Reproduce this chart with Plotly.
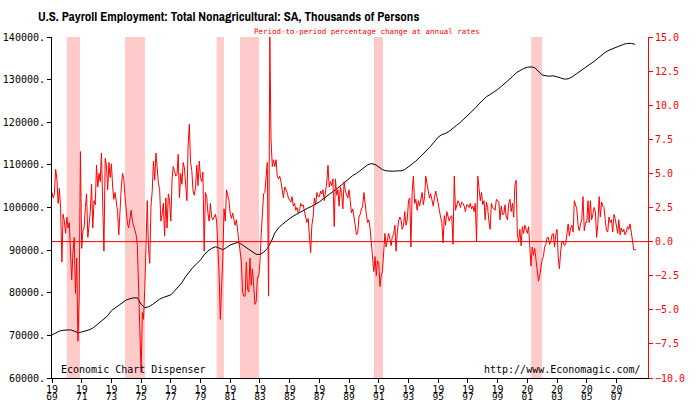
import pandas as pd
import plotly.graph_objects as go

# ---------------- data ----------------
first_month = "1969-01-01"

# Monthly period-to-period % change at annual rates (right axis)
pct_change = [
    3.6, 3.2, 3.5, 5.3, 4.6, 2.8, 3.9, 2.4, -1.5, 2.0, 1.5, 0.6,      # 1969
    1.8, 1.0, 1.4, -1.0, -2.8, -0.7, 0.3, -3.8, -1.2, -7.3, -4.0, 6.6,  # 1970
    -0.5, 0.8, 1.0, 2.5, 3.5, 0.3, 1.5, 2.2, 4.2, 1.0, 3.0, 2.7,     # 1971
    5.6, 4.0, 5.0, 4.4, 6.5, 3.5, -0.7, 6.1, 5.6, 3.8, 5.8, 4.7,     # 1972
    5.7, 4.0, 3.1, 3.6, 2.7, 2.2, 0.5, 2.4, 4.0, 5.0, 4.6, 3.3,      # 1973
    1.9, 1.3, 1.0, 1.6, 2.3, 1.5, 1.2, 0.8, 0.5, -0.3, -4.0, -5.5,   # 1974
    -9.6, -5.2, -5.7, -3.5, 0.0, 3.0, -0.5, -1.6, 2.6, 3.7, 5.9, 4.5,  # 1975
    6.5, 5.0, 4.3, 3.8, 1.5, 2.0, 2.8, 0.4, 3.2, 1.0, 3.5, 3.0,      # 1976
    1.5, 4.6, 5.5, 5.2, 4.8, 4.9, 6.4, 3.2, 5.0, 4.2, 5.8, 5.4,      # 1977
    4.2, 3.0, 7.0, 8.6, 5.8, 5.2, 3.7, 3.4, 4.0, 5.6, 4.1, 5.9,      # 1978
    4.7, 4.4, 5.1, -0.7, 3.6, 3.3, 2.1, 1.5, 2.8, 1.8, 1.6, 1.8,     # 1979
    2.0, 1.5, -0.3, -2.3, -5.7, -3.5, -1.3, 2.4, 1.5, 3.8, 3.4, 3.0,  # 1980
    2.0, 1.7, 2.1, 1.5, 1.2, 1.6, 0.8, 0.1, -0.9, -1.5, -3.7, -4.0,  # 1981
    -4.0, -1.5, -3.5, -3.7, -1.2, -3.2, -2.0, -3.6, -4.6, -4.4, -2.6, -2.6,  # 1982
    -1.5, 0.5, 2.0, 3.5, 3.6, 5.2, 5.8, -4.0, 15.0, 7.5, 5.5, 6.0,   # 1983
    5.5, 6.0, 4.8, 4.6, 4.8, 4.4, 3.9, 3.2, 4.0, 3.8, 3.6, 3.2,      # 1984
    3.0, 2.9, 3.3, 2.6, 2.8, 2.3, 2.5, 2.1, 2.3, 2.8, 2.6, 2.7,      # 1985
    2.2, 1.8, 1.4, 1.7, 0.7, -0.8, 1.2, 1.8, 3.2, 2.7, 3.6, 3.3,     # 1986
    3.3, 3.7, 3.5, 3.8, 3.0, 3.8, 4.3, 5.6, 4.0, 4.4, 4.1, 4.6,      # 1987
    1.1, 4.6, 3.4, 3.8, 2.6, 4.0, 3.6, 2.4, 4.4, 3.7, 3.5, 3.2,      # 1988
    3.8, 3.0, 2.1, 2.4, 1.6, 1.2, 0.5, 0.6, 1.8, 2.0, 2.4, 2.6,      # 1989
    3.6, 2.6, 2.0, 1.4, 1.6, 1.0, -0.3, -1.2, -2.2, -1.1, -2.5, -1.4,  # 1990
    -1.6, -3.3, -2.5, -2.2, -0.4, 0.6, -0.4, 0.0, 0.6, 0.2, -0.3, 0.4,  # 1991
    0.5, 1.2, -0.7, 0.7, 1.5, 1.8, 1.6, 0.9, 1.2, 2.2, 1.2, 1.6,     # 1992
    3.0, 3.2, -0.4, 3.6, 4.8, 2.8, 3.1, 2.3, 3.0, 2.6, 3.3, 3.6,     # 1993
    2.7, 3.3, 4.8, 4.2, 3.7, 3.2, 3.5, 3.0, 2.6, 3.2, 3.7, 3.3,      # 1994
    2.7, 2.3, 1.8, 1.4, -0.1, 1.9, 1.2, 2.2, 1.8, 1.5, 1.8, 1.9,     # 1995
    -0.2, 4.8, 2.3, 2.7, 3.0, 2.8, 2.5, 2.9, 2.8, 2.6, 2.2, 2.7,     # 1996
    2.7, 2.5, 2.8, 2.4, 2.6, 2.2, 2.8, 0.0, 4.8, 3.9, 3.0, 3.6,      # 1997
    2.7, 3.0, 1.6, 2.9, 2.5, 1.5, 0.9, 2.8, 2.5, 2.4, 2.3, 3.1,      # 1998
    3.0, 2.9, 1.6, 2.6, 2.0, 2.0, 2.7, 1.8, 1.6, 2.8, 3.1, 2.2,      # 1999
    2.8, 1.8, 4.1, 4.5, 0.5, 0.0, 0.9, -0.3, 1.1, 0.6, 1.2, 0.8,     # 2000
    0.6, 1.1, -0.2, -1.8, -0.4, -1.0, -0.5, -1.4, -1.8, -2.9, -2.5, -1.8,  # 2001
    -1.3, -1.1, -0.4, -0.2, 0.3, 0.3, -0.2, 0.0, 0.5, 0.6, -0.4, 0.5,  # 2002
    0.9, -1.2, -2.0, -0.7, 0.0, 0.0, -0.3, -0.2, 0.5, 1.3, 0.4, 1.0,  # 2003
    1.2, 0.7, 3.0, 2.6, 2.4, 1.2, 0.8, 1.3, 1.6, 3.3, 0.8, 1.4,      # 2004
    1.4, 3.0, 1.4, 3.0, 1.6, 2.0, 2.5, 2.2, 0.3, 1.3, 3.3, 1.8,      # 2005
    2.9, 2.6, 2.5, 1.6, 0.8, 0.7, 1.8, 1.4, 1.6, 0.7, 2.0, 1.7,      # 2006
    1.2, 0.6, 1.6, 0.5, 1.0, 0.7, 0.9, 0.5, 0.7, 1.1, 0.9, 1.3,      # 2007
    0.7, 0.1, -0.6, -0.6, -0.6,                                      # 2008
]

# Quarterly employment level, thousands of persons (left axis)
employment = [
    70100, 70600, 71000, 71200,  # 1969
    71200, 71300, 71000, 70600,  # 1970
    70800, 71000, 71300, 71700,  # 1971
    72400, 73200, 73800, 74600,  # 1972
    75800, 76400, 76900, 77600,  # 1973
    78300, 78600, 78800, 78800,  # 1974
    77300, 76500, 76700, 77200,  # 1975
    77900, 78500, 78900, 79200,  # 1976
    79500, 80400, 81400, 82400,  # 1977
    83800, 85000, 86000, 86800,  # 1978
    87700, 88900, 89800, 90400,  # 1979
    90800, 90500, 90100, 90600,  # 1980
    91200, 91500, 91800, 91400,  # 1981
    90800, 90200, 89600, 89000,  # 1982
    89000, 89500, 90400, 91900,  # 1983
    94000, 95200, 96000, 96800,  # 1984
    97400, 98000, 98500, 99000,  # 1985
    99400, 99900, 100300, 100800,  # 1986
    101300, 102000, 102600, 103200,  # 1987
    103900, 104600, 105300, 106000,  # 1988
    106900, 107500, 108000, 108600,  # 1989
    109400, 110000, 110300, 110100,  # 1990
    109500, 108900, 108600, 108500,  # 1991
    108500, 108600, 108600, 108900,  # 1992
    109500, 110200, 110900, 111700,  # 1993
    112600, 113500, 114400, 115400,  # 1994
    116500, 117100, 117400, 117900,  # 1995
    118500, 119300, 120000, 120800,  # 1996
    121600, 122500, 123300, 124300,  # 1997
    125100, 126000, 126500, 127000,  # 1998
    127700, 128400, 129100, 129900,  # 1999
    130700, 131600, 132200, 132600,  # 2000
    132900, 133000, 132800, 132000,  # 2001
    131100, 130900, 130800, 130900,  # 2002
    130700, 130400, 130100, 130200,  # 2003
    130600, 131200, 131700, 132300,  # 2004
    133000, 133600, 134300, 135000,  # 2005
    135800, 136400, 136900, 137300,  # 2006
    137700, 138000, 138300, 138500,  # 2007
    138500, 138300,                  # 2008
]

recession_start = ["1969-12-28", "1973-12-01", "1980-02-01", "1981-08-28", "1990-09-05", "2001-04-05"]
recession_end = ["1970-11-20", "1975-04-05", "1980-07-31", "1982-12-10", "1991-04-15", "2001-12-31"]

x_tick_years = list(range(1969, 2008, 2))
x_tick_century = [str(y)[:2] for y in x_tick_years]   # upper label line
x_tick_yy = [str(y)[2:] for y in x_tick_years]        # lower label line
left_tick_values = [60000, 70000, 80000, 90000, 100000, 110000, 120000, 130000, 140000]
left_tick_labels = ["60000.", "70000.", "80000.", "90000.", "100000.", "110000.",
                    "120000.", "130000.", "140000."]

title_text = "U.S. Payroll Employment: Total Nonagricultural: SA, Thousands of Persons"
subtitle_text = "Period-to-period percentage change at annual rates"
left_note = "Economic Chart Dispenser"
right_note = "http://www.Economagic.com/"

# ---------------- figure ----------------
FIG_W, FIG_H = 700, 400
X_RANGE = ["1969-01-01", "2009-02-15"]

pct_dates = pd.date_range(first_month, periods=len(pct_change), freq="MS")
emp_dates = pd.date_range(first_month, periods=len(employment), freq="QS")
x_tick_dates = [f"{y}-01-01" for y in x_tick_years]

MONO = "DejaVu Sans Mono, Liberation Mono, monospace"
RED = "#ff0000"

fig = go.Figure()
fig.add_trace(go.Scatter(x=pct_dates, y=pct_change, mode="lines", yaxis="y2",
                         line=dict(color=RED, width=1), showlegend=False, hoverinfo="skip"))
fig.add_trace(go.Scatter(x=emp_dates, y=employment, mode="lines", yaxis="y",
                         line=dict(color="#000000", width=1), showlegend=False, hoverinfo="skip"))

for s, e in zip(recession_start, recession_end):
    fig.add_vrect(x0=s, x1=e, fillcolor="#ffcaca", opacity=1, layer="below", line_width=0)

# zero reference line of the percentage-change scale
fig.add_hline(y=0, yref="y2", line_color=RED, line_width=1, layer="above")

fig.update_layout(
    width=FIG_W, height=FIG_H, autosize=False,
    margin=dict(l=52, r=52, t=37, b=22),
    paper_bgcolor="white", plot_bgcolor="white",
    title=dict(text=title_text, x=38 / FIG_W, xanchor="left", y=1 - 16 / FIG_H, yanchor="middle",
               font=dict(family="Archivo Narrow, Asap Condensed, Liberation Sans, sans-serif",
                         size=13, color="black", weight="bold")),
    xaxis=dict(type="date", range=X_RANGE, automargin=False,
               tickvals=x_tick_dates, ticktext=x_tick_century,
               ticks="outside", ticklen=4, tickcolor="black", tickangle=0,
               ticklabelstandoff=-2,
               showline=True, linecolor="black", linewidth=1,
               showgrid=False, zeroline=False,
               tickfont=dict(family=MONO, size=10, color="black")),
    xaxis2=dict(type="date", range=X_RANGE, automargin=False, overlaying="x", matches="x",
                anchor="y", side="bottom",
                tickvals=x_tick_dates, ticktext=x_tick_yy,
                ticks="", tickangle=0, ticklabelstandoff=11,
                showline=False, showgrid=False, zeroline=False,
                tickfont=dict(family=MONO, size=9.5, color="black")),
    yaxis=dict(range=[60000, 140000], tickvals=left_tick_values, ticktext=left_tick_labels,
               automargin=False,
               ticks="outside", ticklen=4, tickcolor="black",
               showline=True, linecolor="black", linewidth=1,
               showgrid=False, zeroline=False,
               tickfont=dict(family=MONO, size=10, color="black")),
    yaxis2=dict(range=[-10, 15], dtick=2.5, tick0=0, tickformat=".1f",
                overlaying="y", side="right", automargin=False,
                ticks="outside", ticklen=4, tickcolor=RED,
                showline=True, linecolor=RED, linewidth=1,
                showgrid=False, zeroline=False,
                tickfont=dict(family=MONO, size=10, color=RED)),
    annotations=[
        dict(text=subtitle_text, xref="paper", yref="paper", x=(252 - 52) / 596, y=1 + 6 / 341,
             xanchor="left", yanchor="middle", showarrow=False,
             font=dict(family=MONO, size=7.5, color=RED)),
        dict(text=left_note, xref="paper", yref="paper", x=(59 - 52) / 596, y=9 / 341,
             xanchor="left", yanchor="middle", showarrow=False,
             font=dict(family=MONO, size=10, color="black")),
        dict(text=right_note, xref="paper", yref="paper", x=(643 - 52) / 596, y=9 / 341,
             xanchor="right", yanchor="middle", showarrow=False,
             font=dict(family=MONO, size=10, color="black")),
    ],
)

# an invisible trace binds the second (label-only) x axis so it is drawn
fig.add_trace(go.Scatter(x=[x_tick_dates[0]], y=[None], xaxis="x2", yaxis="y",
                         mode="lines", showlegend=False, hoverinfo="skip"))

# remove the browser's default 8px body margin so the 700x400 figure fills the window
fig.write_html("out.html", config={"displayModeBar": False},
               post_script="document.body.style.margin='0';document.body.style.overflow='hidden';")
